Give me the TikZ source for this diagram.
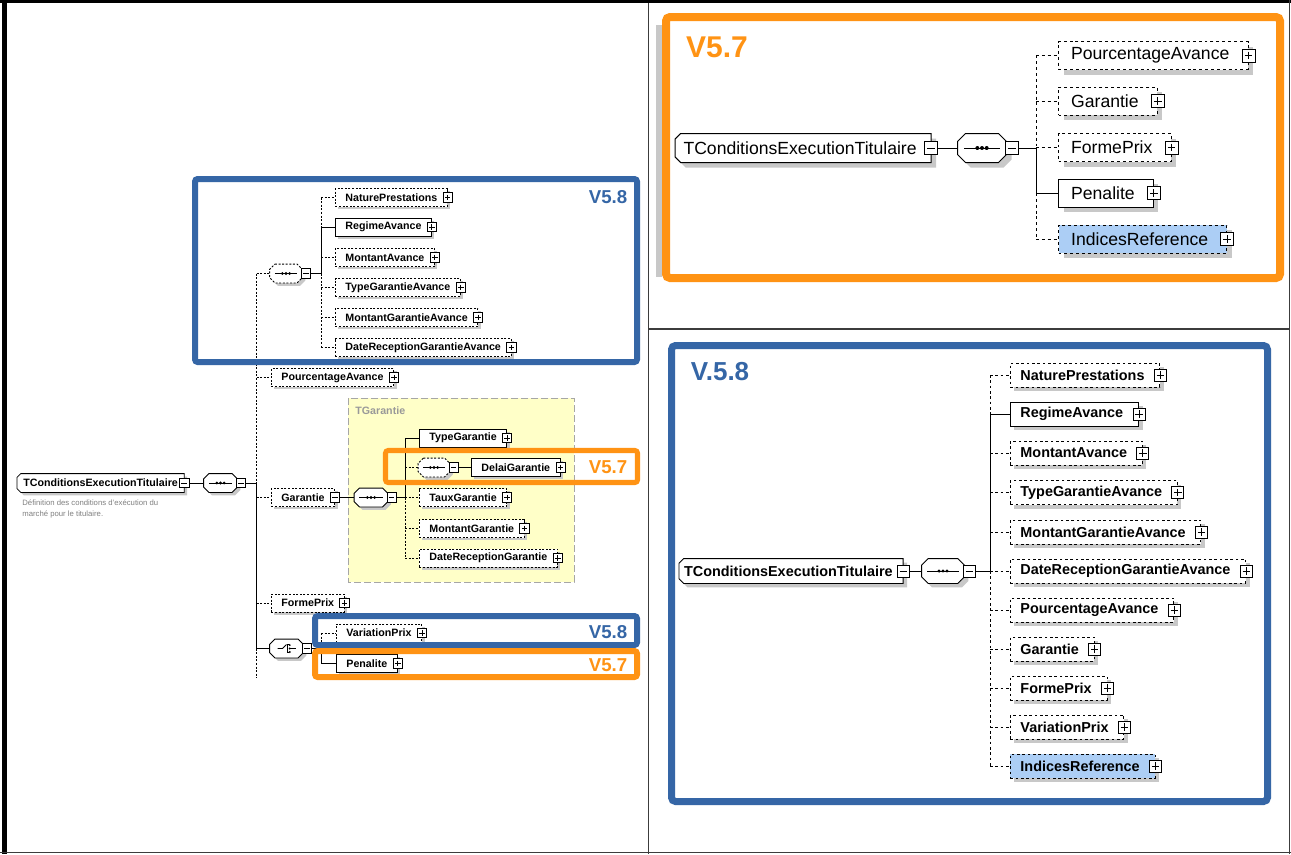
\documentclass[tikz,border=0pt]{standalone}
\usepackage{fontspec}
\setmainfont{Liberation Sans}
\usetikzlibrary{shadows,backgrounds}
\definecolor{vblue}{RGB}{53,102,166}
\definecolor{vorange}{RGB}{255,147,20}
\definecolor{refblue}{RGB}{172,206,245}
\definecolor{tyellow}{RGB}{255,255,200}
\definecolor{shgray}{RGB}{200,200,200}
\definecolor{framegray}{RGB}{60,60,60}
% octagon of a compositor: node, path options, offset
\newcommand\octo[3]{\path[#2] ([shift={#3},xshift=\chsize]#1.north west) -- ([shift={#3},xshift=-\chsize]#1.north east) -- ([shift={#3},yshift=-\chsize]#1.north east) -- ([shift={#3},yshift=\chsize]#1.south east) -- ([shift={#3},xshift=-\chsize]#1.south east) -- ([shift={#3},xshift=\chsize]#1.south west) -- ([shift={#3},yshift=\chsize]#1.south west) -- ([shift={#3},yshift=-\chsize]#1.north west) -- cycle;}
% complex type outline, left corners cut
\newcommand\chamf[3]{\path[#2] ([shift={#3},xshift=0.7*\chsize]#1.north west) -- ([shift={#3}]#1.north east) -- ([shift={#3}]#1.south east) -- ([shift={#3},xshift=0.7*\chsize]#1.south west) -- ([shift={#3},yshift=0.7*\chsize]#1.south west) -- ([shift={#3},yshift=-0.7*\chsize]#1.north west) -- cycle;}
\newcommand\seqicon[1]{\draw[solid] ([xshift=4*\iconu]#1.west) -- ([xshift=-4*\iconu]#1.east);
  \foreach \d in {-1,0,1} \fill[black] ([xshift=\d*2.7*\iconu]#1.center) circle (1.15*\iconu);}
\newcommand\choiceicon[1]{\draw[solid] ([xshift=-6.75pt]#1.center) -- ([xshift=-3pt]#1.center) -- ([yshift=3pt]#1.center);
  \draw[solid] ([shift={(1.5pt,3pt)}]#1.center) -- ([shift={(0.75pt,3pt)}]#1.center) -- ([shift={(0.75pt,-3pt)}]#1.center) -- ([shift={(1.5pt,-3pt)}]#1.center);
  \draw[solid] ([xshift=2.25pt]#1.center) -- ([xshift=6.75pt]#1.center);
  \foreach \d in {-2.6,0,2.6} \fill[black] ([shift={(2.4pt,\d pt)}]#1.center) circle (0.8pt);}
\tikzset{
  sgnsize/.store in=\sgnsize, sgnsize=7pt,
  iconu/.store in=\iconu, iconu=1pt,
  chsize/.store in=\chsize, chsize=4pt,
  shd/.store in=\shd, shd=2pt,
  panel/.style={},
  dsh/.style={dash pattern=on 1.5pt off 1.5pt},
  sgn/.style={rectangle, draw, solid, fill=white, minimum size=\sgnsize, inner sep=0pt,
    path picture={\draw ([xshift=0.2*\sgnsize]path picture bounding box.west) -- ([xshift=-0.2*\sgnsize]path picture bounding box.east);}},
  sgnplus/.style={sgn, path picture={
    \draw ([xshift=0.2*\sgnsize]path picture bounding box.west) -- ([xshift=-0.2*\sgnsize]path picture bounding box.east);
    \draw ([yshift=-0.2*\sgnsize]path picture bounding box.north) -- ([yshift=0.2*\sgnsize]path picture bounding box.south);}},
  withplus/.style={append after command={(\tikzlastnode.east) node[sgnplus] {}}},
  withminus/.style={append after command={(\tikzlastnode.east) node[sgn] {}}},
  withminusout/.style={append after command={([xshift=0.4*\sgnsize]\tikzlastnode.east) node[sgn] {}}},
  box/.style={rectangle, draw, fill=white, anchor=west, panel, drop shadow={shadow xshift=\shd, shadow yshift=-\shd, fill=shgray, opacity=1}},
  elem/.style={box, withplus},
  opt/.style={elem, dsh},
  optx/.style={box, dsh, withminus},
  ctype/.style={rectangle, anchor=west, panel, append after command={\pgfextra{\chamf{\tikzlastnode}{fill=shgray}{(\shd,-\shd)}\chamf{\tikzlastnode}{draw,fill=white}{(0pt,0pt)}}}, withminus},
  comp/.style={rectangle, panel, inner sep=0pt},
  seq/.style={comp, append after command={\pgfextra{\octo{\tikzlastnode}{fill=shgray}{(\shd,-\shd)}\octo{\tikzlastnode}{draw,fill=white}{(0pt,0pt)}\seqicon{\tikzlastnode}}}, withminusout},
  seqopt/.style={comp, append after command={\pgfextra{\octo{\tikzlastnode}{fill=shgray}{(\shd,-\shd)}\octo{\tikzlastnode}{draw,fill=white,dsh}{(0pt,0pt)}\seqicon{\tikzlastnode}}}, withminusout},
  choice/.style={comp, append after command={\pgfextra{\octo{\tikzlastnode}{fill=shgray}{(\shd,-\shd)}\octo{\tikzlastnode}{draw,fill=white}{(0pt,0pt)}\choiceicon{\tikzlastnode}}}, withminusout},
  vlabel/.style={font=\bfseries\fontsize{14}{16}\selectfont, inner sep=0pt},
}

\begin{document}
\begin{tikzpicture}[x=0.75pt, y=-0.75pt]
\useasboundingbox (0,0) rectangle (1291,854);
\begin{scope}[on background layer]
  \fill[white] (0,0) rectangle (1291,854);
  \fill[shgray] (656,25) rectangle (662,277);
  \draw[gray!70, fill=tyellow, dash pattern=on 5pt off 2.5pt, line width=0.6pt] (348,398) rectangle (574,582);
\end{scope}
% frame
\fill[black] (0,0) rectangle (1291,3);
\fill[black] (2,0) rectangle (7,854);
\draw[framegray, line width=1.2pt] (1289.5,0) -- (1289.5,854);
\draw[framegray, line width=1.2pt] (0,852.5) -- (1291,852.5);
\draw[framegray, line width=1.1pt] (648.5,3) -- (648.5,854);
\draw[framegray, line width=0.8pt] (648.5,329) -- (1289.5,329);

% left panel
\begin{scope}[line width=0.6pt, sgnsize=7pt, iconu=1pt, chsize=4pt, shd=2.2pt,
  panel/.style={font=\fontsize{8}{9.6}\selectfont\bfseries, minimum height=13.5pt, inner xsep=7.5pt, inner ysep=0pt, line width=0.6pt},
  dsh/.style={dash pattern=on 1.5pt off 1.2pt}]
  \node[ctype, inner xsep=4.5pt] (root) at (17,483) {TConditionsExecutionTitulaire};
  \node[font=\fontsize{5.8}{8.7}\selectfont, text=gray, align=left, anchor=north west, inner sep=0pt] (desc) at (22,499) {Définition des conditions d'exécution du\\marché pour le titulaire.};
  \node[seq, minimum width=24.75pt] (seqa) at (220.5,483) {};
  \coordinate (busa) at (256.5,483);
  \coordinate (busend) at (256.5,678);
  % avance group
  \node[seqopt, minimum width=24pt] (seqb) at (286,273.5) {};
  \coordinate (busb) at (321,273.5);
  \node[opt] (np) at (335,197.5) {NaturePrestations};
  \node[elem] (ra) at (335,227) {RegimeAvance};
  \node[opt] (ma) at (335,257.5) {MontantAvance};
  \node[opt] (tga) at (335,287.5) {TypeGarantieAvance};
  \node[opt] (mga) at (335,317.5) {MontantGarantieAvance};
  \node[opt] (drga) at (335,347.5) {DateReceptionGarantieAvance};
  \node[opt] (pa) at (271,377.5) {PourcentageAvance};
  % garantie
  \node[font=\fontsize{8}{9.6}\selectfont\bfseries, text=gray!80, anchor=west, inner sep=0pt] (tgl) at (355,411) {TGarantie};
  \node[optx] (gar) at (271,497.5) {Garantie};
  \node[seq, minimum width=24.75pt] (seqc) at (371,497.5) {};
  \coordinate (busc) at (405,497.5);
  \node[elem] (tg) at (419,438) {TypeGarantie};
  \node[seqopt, minimum width=23.25pt] (seqd) at (434,467.5) {};
  \node[elem] (dg) at (471,467.5) {DelaiGarantie};
  \node[opt] (tx) at (419,497.5) {TauxGarantie};
  \node[opt] (mg) at (419,528.5) {MontantGarantie};
  \node[opt] (drg) at (419,558) {DateReceptionGarantie};
  \node[opt] (fp) at (271,603) {FormePrix};
  % choice
  \node[choice, minimum width=24.75pt] (ch) at (286.5,648.5) {};
  \coordinate (busd) at (321,648.5);
  \node[opt] (vp) at (336,633) {VariationPrix};
  \node[elem] (pen) at (336,663.5) {Penalite};
  \begin{scope}[on background layer]
    \draw (root.east) -- (seqa.west);
    \draw (seqa.east) -- (busa);
    \draw[dsh] (busa |- seqb) -- (busa);
    \draw (busa) -- (busa |- ch);
    \draw[dsh] (busa |- ch) -- (busend);
    \draw[dsh] (busa |- seqb) -- (seqb.west);
    \draw[dsh] (busa |- pa.west) -- (pa.west);
    \draw[dsh] (busa |- gar.west) -- (gar.west);
    \draw[dsh] (busa |- fp.west) -- (fp.west);
    \draw (busa |- ch) -- (ch.west);
    \draw (seqb.east) -- (busb);
    \draw[dsh] (busb |- np.west) -- (busb |- ra.west);
    \draw (busb |- ra.west) -- (busb);
    \draw[dsh] (busb) -- (busb |- drga.west);
    \draw (busb |- ra.west) -- (ra.west);
    \draw[dsh] (busb |- np.west) -- (np.west);
    \draw[dsh] (busb |- ma.west) -- (ma.west);
    \draw[dsh] (busb |- tga.west) -- (tga.west);
    \draw[dsh] (busb |- mga.west) -- (mga.west);
    \draw[dsh] (busb |- drga.west) -- (drga.west);
    \draw (gar.east) -- (seqc.west);
    \draw (seqc.east) -- (busc);
    \draw (busc |- tg.west) -- (busc);
    \draw[dsh] (busc) -- (busc |- drg.west);
    \draw (busc |- tg.west) -- (tg.west);
    \draw[dsh] (busc |- seqd) -- (seqd.west);
    \draw (seqd.east) -- (dg.west);
    \draw[dsh] (busc |- tx.west) -- (tx.west);
    \draw[dsh] (busc |- mg.west) -- (mg.west);
    \draw[dsh] (busc |- drg.west) -- (drg.west);
    \draw (ch.east) -- (busd);
    \draw[dsh] (busd |- vp.west) -- (busd);
    \draw (busd) -- (busd |- pen.west);
    \draw[dsh] (busd |- vp.west) -- (vp.west);
    \draw (busd |- pen.west) -- (pen.west);
  \end{scope}
  % version frames
  \draw[vblue, line width=4.5pt, rounded corners=2pt] (195,179) rectangle (637,362);
  \node[vlabel, text=vblue] (la) at (608,197) {V5.8};
  \draw[vorange, line width=3.8pt, rounded corners=2pt] (385.5,450.5) rectangle (637.5,482.5);
  \node[vlabel, text=vorange] (lb) at (608,467) {V5.7};
  \draw[vblue, line width=4.5pt, rounded corners=2pt] (315,616) rectangle (637,645);
  \node[vlabel, text=vblue] (lc) at (608,632) {V5.8};
  \draw[vorange, line width=4.5pt, rounded corners=2pt] (315,651) rectangle (637,677);
  \node[vlabel, text=vorange] (ld) at (608,665) {V5.7};
\end{scope}

% top right panel
\begin{scope}[line width=0.75pt, sgnsize=9.75pt, iconu=1.3pt, chsize=6pt, shd=3.75pt,
  panel/.style={font=\fontsize{13.2}{15}\selectfont, minimum height=21pt, inner xsep=9.5pt, inner ysep=0pt, line width=0.75pt, execute at end node={\hspace{4.5pt}}},
  dsh/.style={dash pattern=on 2.2pt off 2.2pt}]
  \node[ctype, inner xsep=6pt] (rootb) at (675,148) {TConditionsExecutionTitulaire};
  \node[seq, minimum width=36pt] (seqe) at (982,148) {};
  \coordinate (buse) at (1036,148);
  \node[opt] (pab) at (1058,55.5) {PourcentageAvance};
  \node[opt] (gab) at (1058,101) {Garantie};
  \node[opt] (fpb) at (1058,147.5) {FormePrix};
  \node[elem] (peb) at (1058,193) {Penalite};
  \node[opt, fill=refblue] (irb) at (1058,239) {IndicesReference};
  \begin{scope}[on background layer]
    \draw (rootb.east) -- (seqe.west);
    \draw (seqe.east) -- (buse);
    \draw[dsh] (buse |- pab.west) -- (buse);
    \draw (buse) -- (buse |- peb.west);
    \draw[dsh] (buse |- peb.west) -- (buse |- irb.west);
    \draw[dsh] (buse |- pab.west) -- (pab.west);
    \draw[dsh] (buse |- gab.west) -- (gab.west);
    \draw[dsh] (buse |- fpb.west) -- (fpb.west);
    \draw (buse |- peb.west) -- (peb.west);
    \draw[dsh] (buse |- irb.west) -- (irb.west);
  \end{scope}
  \draw[vorange, line width=6pt, rounded corners=3pt] (666,17) rectangle (1280,278);
  \node[vlabel, font=\bfseries\fontsize{22.5}{25}\selectfont, text=vorange] (le) at (717,47) {V5.7};
\end{scope}

% bottom right panel
\begin{scope}[line width=0.7pt, sgnsize=9pt, iconu=1.1pt, chsize=5pt, shd=3pt,
  panel/.style={font=\fontsize{10.8}{13}\selectfont\bfseries, minimum height=18pt, inner xsep=7.5pt, inner ysep=0pt, line width=0.7pt, execute at end node={\hspace{4pt}}},
  dsh/.style={dash pattern=on 2pt off 2pt}]
  \node[ctype, inner xsep=3.5pt] (rootc) at (679,571) {TConditionsExecutionTitulaire};
  \node[seq, minimum width=31.5pt] (seqf) at (943,571) {};
  \coordinate (busf) at (990,571);
  \node[opt] (npc) at (1010,375) {NaturePrestations};
  \node[elem] (rac) at (1010,414) {RegimeAvance};
  \node[opt] (mac) at (1010,453) {MontantAvance};
  \node[opt] (tgac) at (1010,492.5) {TypeGarantieAvance};
  \node[opt] (mgac) at (1010,532) {MontantGarantieAvance};
  \node[opt] (drgac) at (1010,571) {DateReceptionGarantieAvance};
  \node[opt] (pac) at (1010,610) {PourcentageAvance};
  \node[opt] (gac) at (1010,649) {Garantie};
  \node[opt] (fpc) at (1010,688) {FormePrix};
  \node[opt] (vpc) at (1010,727) {VariationPrix};
  \node[opt, fill=refblue] (irc) at (1010,766) {IndicesReference};
  \begin{scope}[on background layer]
    \draw (rootc.east) -- (seqf.west);
    \draw (seqf.east) -- (busf);
    \draw[dsh] (busf |- npc.west) -- (busf |- rac.west);
    \draw (busf |- rac.west) -- (busf);
    \draw[dsh] (busf) -- (busf |- irc.west);
    \draw (busf |- rac.west) -- (rac.west);
    \draw[dsh] (busf |- npc.west) -- (npc.west);
    \draw[dsh] (busf |- mac.west) -- (mac.west);
    \draw[dsh] (busf |- tgac.west) -- (tgac.west);
    \draw[dsh] (busf |- mgac.west) -- (mgac.west);
    \draw[dsh] (busf |- drgac.west) -- (drgac.west);
    \draw[dsh] (busf |- pac.west) -- (pac.west);
    \draw[dsh] (busf |- gac.west) -- (gac.west);
    \draw[dsh] (busf |- fpc.west) -- (fpc.west);
    \draw[dsh] (busf |- vpc.west) -- (vpc.west);
    \draw[dsh] (busf |- irc.west) -- (irc.west);
  \end{scope}
  \draw[vblue, line width=5.25pt, rounded corners=3pt] (671.5,345.5) rectangle (1267.5,801.5);
  \node[vlabel, font=\bfseries\fontsize{19.5}{22}\selectfont, text=vblue] (lf) at (720,372) {V.5.8};
\end{scope}
\end{tikzpicture}
\end{document}
